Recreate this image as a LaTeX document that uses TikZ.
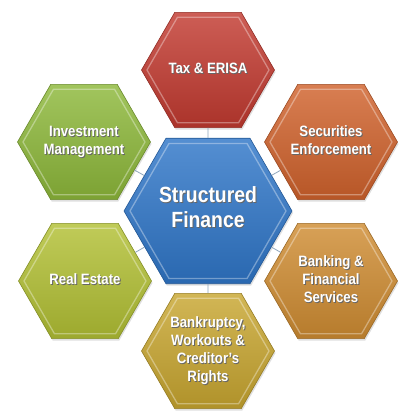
\documentclass[tikz,border=0pt]{standalone}
\usepackage{fontspec}
\setmainfont{Liberation Sans}[FakeStretch=0.88]
\usetikzlibrary{shapes.geometric,shadows}
\definecolor{taxc}{HTML}{C23A30}
\definecolor{invc}{HTML}{8DB83A}
\definecolor{secc}{HTML}{D0622C}
\definecolor{ctrc}{HTML}{2F76C8}
\definecolor{rec}{HTML}{B2C034}
\definecolor{bankc}{HTML}{CF8C32}
\definecolor{bkrc}{HTML}{C8A630}
\definecolor{linkc}{HTML}{8FA6BC}
\newcommand\shtxt[1]{\rlap{\raisebox{-1pt}{\hspace{0.9pt}\textcolor{black!60}{\begin{tabular}{@{}c@{}}#1\end{tabular}}}}\begin{tabular}{@{}c@{}}#1\end{tabular}}
\tikzset{
  hexa/.style={regular polygon, regular polygon sides=6, minimum size=133pt,
    inner sep=0pt, text=white, align=center,
    font=\bfseries\fontsize{15}{18}\selectfont,
    draw=#1!75!black, line width=0.6pt,
    top color=#1!82!white, bottom color=#1!88!black,
    drop shadow={opacity=.25, shadow xshift=1pt, shadow yshift=-2pt}},
  bighexa/.style={hexa=#1, minimum size=168pt, font=\bfseries\fontsize{22}{25}\selectfont},
  link/.style={draw=linkc, line width=0.8pt},
  bevelline/.style={white, opacity=.35, line width=1.3pt, line join=round}
}
\newcommand\hexbevel[2]{\draw[bevelline] (#1.center) ++(0:#2) -- ++(120:#2) -- ++(180:#2) -- ++(240:#2) -- ++(300:#2) -- ++(0:#2) -- cycle;}
\begin{document}
\begin{tikzpicture}[x=1pt,y=1pt]
\fill[white] (0,0) rectangle (415,420);
\useasboundingbox (0,0) rectangle (415,420);
\node[hexa=taxc]  (tax)  at (208,350) {\shtxt{Tax \& ERISA}};
\node[hexa=invc]  (inv)  at (84,278)  {\shtxt{Investment\\Management}};
\node[hexa=secc]  (sec)  at (331,278) {\shtxt{Securities\\Enforcement}};
\node[hexa=rec]   (re)   at (85,139)  {\shtxt{Real Estate}};
\node[hexa=bankc] (bank) at (331,139) {\shtxt{Banking \&\\Financial\\Services}};
\node[hexa=bkrc]  (bkr)  at (208,69)  {\shtxt{Bankruptcy,\\Workouts \&\\Creditor's\\Rights}};
\node[bighexa=ctrc] (ctr) at (208,209) {\shtxt{Structured\\Finance}};
\foreach \n in {tax,inv,sec,re,bank,bkr}{\hexbevel{\n}{61pt}}
\hexbevel{ctr}{78pt}
\foreach \n in {tax,inv,sec,re,bank,bkr}{\draw[link] (ctr) -- (\n);}
\end{tikzpicture}
\end{document}
